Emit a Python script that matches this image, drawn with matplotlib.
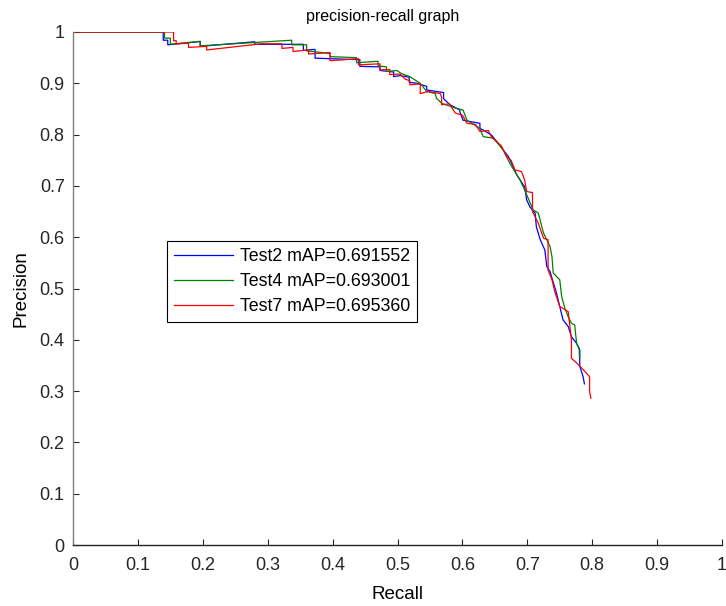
import matplotlib
matplotlib.use("Agg")
import matplotlib.pyplot as plt

plt.rcParams['font.family'] = ['Liberation Sans', 'DejaVu Sans']

# ---- data (recall, precision) ----
test2_recall = [0.0, 0.139, 0.139, 0.146, 0.146, 0.193, 0.196, 0.196, 0.280, 0.280,
                0.355, 0.355, 0.370, 0.373, 0.373, 0.442, 0.442, 0.473, 0.473, 0.494,
                0.494, 0.504, 0.518, 0.518, 0.530, 0.545, 0.545, 0.571, 0.571, 0.581,
                0.596, 0.596, 0.601, 0.627, 0.627, 0.632, 0.645, 0.655, 0.671, 0.684,
                0.696, 0.699, 0.704, 0.712, 0.714, 0.720, 0.727, 0.730, 0.735, 0.745,
                0.750, 0.755, 0.763, 0.768, 0.776, 0.780, 0.781, 0.786, 0.788]
test2_precision = [1.0, 1.0, 0.984, 0.984, 0.975, 0.981, 0.981, 0.972, 0.981, 0.976,
                   0.976, 0.964, 0.966, 0.966, 0.949, 0.946, 0.933, 0.932, 0.925, 0.922,
                   0.913, 0.915, 0.912, 0.902, 0.900, 0.894, 0.887, 0.882, 0.870, 0.858,
                   0.848, 0.845, 0.828, 0.822, 0.812, 0.809, 0.799, 0.783, 0.757, 0.721,
                   0.698, 0.673, 0.659, 0.647, 0.620, 0.595, 0.575, 0.543, 0.533, 0.491,
                   0.465, 0.439, 0.426, 0.406, 0.393, 0.383, 0.348, 0.328, 0.314]

test4_recall = [0.0, 0.141, 0.141, 0.150, 0.150, 0.196, 0.196, 0.337, 0.337, 0.360,
                0.360, 0.370, 0.396, 0.396, 0.437, 0.437, 0.470, 0.470, 0.483, 0.483,
                0.499, 0.506, 0.519, 0.535, 0.545, 0.558, 0.560, 0.568, 0.591, 0.601,
                0.607, 0.627, 0.632, 0.648, 0.663, 0.673, 0.689, 0.696, 0.709, 0.717,
                0.725, 0.735, 0.738, 0.740, 0.750, 0.753, 0.758, 0.763, 0.768, 0.773,
                0.776, 0.781, 0.781]
test4_precision = [1.0, 1.0, 0.988, 0.988, 0.976, 0.982, 0.973, 0.984, 0.975, 0.975,
                   0.963, 0.962, 0.958, 0.952, 0.950, 0.940, 0.943, 0.934, 0.932, 0.923,
                   0.925, 0.919, 0.913, 0.900, 0.884, 0.880, 0.871, 0.861, 0.851, 0.848,
                   0.828, 0.812, 0.796, 0.793, 0.770, 0.744, 0.711, 0.692, 0.653, 0.647,
                   0.608, 0.582, 0.562, 0.530, 0.517, 0.484, 0.461, 0.445, 0.432, 0.429,
                   0.393, 0.380, 0.364]

test7_recall = [0.0, 0.155, 0.155, 0.159, 0.159, 0.178, 0.178, 0.206, 0.206, 0.290,
                0.322, 0.322, 0.339, 0.339, 0.363, 0.363, 0.396, 0.396, 0.440, 0.440,
                0.473, 0.473, 0.488, 0.488, 0.504, 0.512, 0.519, 0.519, 0.535, 0.535,
                0.547, 0.566, 0.568, 0.568, 0.580, 0.589, 0.600, 0.607, 0.620, 0.627,
                0.640, 0.645, 0.653, 0.660, 0.668, 0.675, 0.681, 0.691, 0.696, 0.699,
                0.708, 0.708, 0.717, 0.725, 0.732, 0.732, 0.738, 0.743, 0.750, 0.763,
                0.768, 0.768, 0.776, 0.789, 0.796, 0.796, 0.798]
test7_precision = [1.0, 1.0, 0.983, 0.983, 0.977, 0.978, 0.970, 0.972, 0.965, 0.977,
                   0.977, 0.968, 0.970, 0.962, 0.965, 0.957, 0.960, 0.944, 0.948, 0.936,
                   0.938, 0.926, 0.927, 0.917, 0.918, 0.908, 0.905, 0.897, 0.899, 0.880,
                   0.884, 0.880, 0.872, 0.858, 0.860, 0.842, 0.838, 0.822, 0.820, 0.806,
                   0.808, 0.795, 0.786, 0.778, 0.757, 0.750, 0.731, 0.728, 0.711, 0.689,
                   0.687, 0.650, 0.627, 0.598, 0.595, 0.536, 0.517, 0.491, 0.465, 0.455,
                   0.400, 0.364, 0.355, 0.338, 0.328, 0.299, 0.286]

series_labels = ["Test2 mAP=0.691552", "Test4 mAP=0.693001", "Test7 mAP=0.695360"]
series_colors = ["#0000ff", "#008000", "#ff0000"]
x_ticks = [0, 0.1, 0.2, 0.3, 0.4, 0.5, 0.6, 0.7, 0.8, 0.9, 1]
x_ticklabels = ["0", "0.1", "0.2", "0.3", "0.4", "0.5", "0.6", "0.7", "0.8", "0.9", "1"]
y_ticks = x_ticks
y_ticklabels = x_ticklabels

fig = plt.figure(figsize=(7.26, 6.06), dpi=100)
ax = fig.add_axes([73/726, 61/606, 649/726, 513/606])

for rec, prec, lab, col in zip([test2_recall, test4_recall, test7_recall],
                               [test2_precision, test4_precision, test7_precision],
                               series_labels, series_colors):
    ax.plot(rec, prec, color=col, lw=0.9, label=lab)

ax.set_xlim(0, 1)
ax.set_ylim(0, 1)
ax.set_xticks(x_ticks)
ax.set_xticklabels(x_ticklabels)
ax.set_yticks(y_ticks)
ax.set_yticklabels(y_ticklabels)
ax.tick_params(direction='in', length=4, width=0.8, colors='#262626', labelsize=13)
ax.tick_params(axis='x', pad=9)
ax.tick_params(axis='y', pad=6)
for s in ['top', 'right']:
    ax.spines[s].set_visible(False)
ax.spines['left'].set_color('#808080')
ax.spines['bottom'].set_color('#262626')
ax.spines['left'].set_linewidth(1.0)
ax.spines['bottom'].set_linewidth(1.0)

ax.set_title("precision-recall graph", fontsize=11.5, pad=8, x=0.477)
ax.set_xlabel("Recall", fontsize=13.5, labelpad=8)
ax.set_ylabel("Precision", fontsize=13.5, labelpad=7)

leg = ax.legend(loc='upper left', bbox_to_anchor=(0.145, 0.593), borderaxespad=0,
                fontsize=12.8, handlelength=3.3, handletextpad=0.4, labelspacing=0.45,
                borderpad=0.4, fancybox=False, framealpha=1, edgecolor='black')
leg.get_frame().set_linewidth(0.8)

fig.savefig("out.png", dpi=100)
